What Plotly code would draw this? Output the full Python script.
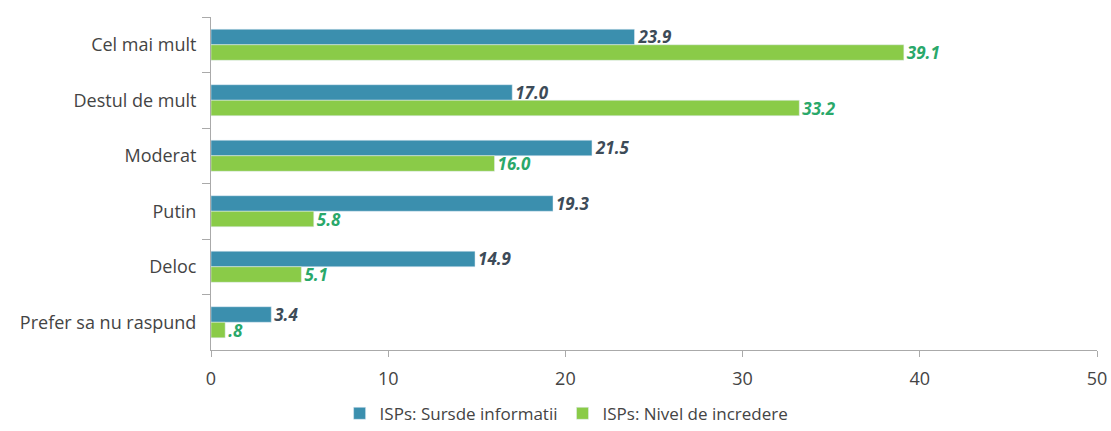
import plotly.graph_objects as go

categories = ["Cel mai mult", "Destul de mult", "Moderat", "Putin", "Deloc", "Prefer sa nu raspund"]
surse = [23.9, 17.0, 21.5, 19.3, 14.9, 3.4]
incredere = [39.1, 33.2, 16.0, 5.8, 5.1, 0.8]
series_names = ["ISPs: Sursde informatii", "ISPs: Nivel de incredere"]
x_ticks = [0, 10, 20, 30, 40, 50]

def fmt(v):
    s = f"{v:.1f}"
    if s.startswith("0."):
        s = s[1:]
    return f"<b><i>{s}</i></b>"

fig = go.Figure()
fig.add_trace(go.Bar(
    y=categories, x=surse, orientation="h", name=series_names[0],
    marker=dict(color="#3b8fae"),
    text=[fmt(v) for v in surse], textposition="outside", cliponaxis=False,
    constraintext="none",
    textfont=dict(color="#3d4b58", size=17, family="Open Sans"),
))
fig.add_trace(go.Bar(
    y=categories, x=incredere, orientation="h", name=series_names[1],
    marker=dict(color="#8acb48"),
    text=[fmt(v) for v in incredere], textposition="outside", cliponaxis=False,
    constraintext="none",
    textfont=dict(color="#2aa86a", size=17, family="Open Sans"),
))

fig.update_layout(
    width=1111, height=431,
    margin=dict(l=211, r=14, t=17, b=81, autoexpand=False),
    paper_bgcolor="white", plot_bgcolor="white",
    barmode="group", bargap=0.44, bargroupgap=0,
    font=dict(family="Open Sans", size=17, color="#444444"),
    legend=dict(orientation="h", xref="container", yref="container",
                x=0.51, xanchor="center", y=0.04, yanchor="middle",
                font=dict(size=17, color="#444444"), traceorder="normal",
                itemwidth=30),
    showlegend=True,
)
fig.update_xaxes(
    range=[0, 50], tickvals=x_ticks, showgrid=False, zeroline=False,
    showline=True, linecolor="#aaaaaa", linewidth=1,
    ticks="outside", ticklen=6, tickcolor="#aaaaaa", ticklabelstandoff=6,
    tickfont=dict(size=18, color="#444444"), automargin=False,
)
fig.update_yaxes(
    autorange="reversed", showgrid=False, showline=True, linecolor="#aaaaaa",
    linewidth=1, ticks="outside", tickson="boundaries", ticklen=8, automargin=False,
    tickcolor="#aaaaaa", ticklabelstandoff=10, tickfont=dict(size=18, color="#444444"),
)

fig.write_html("out.html")
